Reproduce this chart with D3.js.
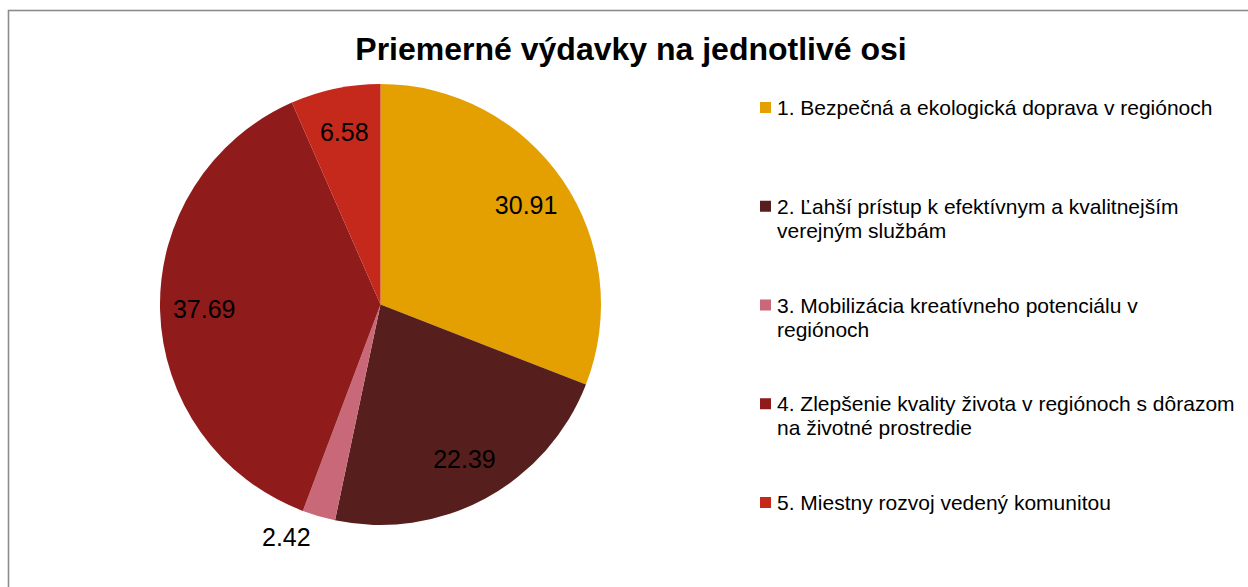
<!DOCTYPE html>
<html>
<head>
<meta charset="utf-8">
<script src="https://cdn.jsdelivr.net/npm/d3@7"></script>
<style>
  body { margin: 0; background: #fff; }
  svg { display: block; font-family: "Liberation Sans", Arial, sans-serif; }
</style>
</head>
<body>
<div id="chart"></div>
<script>
// data
const title = "Priemerné výdavky na jednotlivé osi";
const categories = [
  ["1. Bezpečná a ekologická doprava v regiónoch"],
  ["2. Ľahší prístup k efektívnym a kvalitnejším", "verejným službám"],
  ["3. Mobilizácia kreatívneho potenciálu v", "regiónoch"],
  ["4. Zlepšenie kvality života v regiónoch s dôrazom", "na životné prostredie"],
  ["5. Miestny rozvoj vedený komunitou"]
];
const values = [30.91, 22.39, 2.42, 37.69, 6.58];
const colors = ["#E3A000", "#561E1C", "#C86879", "#8F1B1B", "#C5291C"];

const w = 1248, h = 587;
const svg = d3.select("#chart").append("svg")
  .attr("width", w).attr("height", h);

// chart frame (runs off the right and bottom edge)
svg.append("rect")
  .attr("x", 8.5).attr("y", 10.5)
  .attr("width", 1400).attr("height", 800)
  .attr("fill", "none")
  .attr("stroke", "#8c8c8c")
  .attr("stroke-width", 1.6);

svg.append("text")
  .attr("x", 631).attr("y", 60)
  .attr("text-anchor", "middle")
  .style("font-size", "32px")
  .style("font-weight", "bold")
  .text(title);

// pie
const cx = 380.5, cy = 304.5, r = 220.5;
const g = svg.append("g").attr("transform", "translate(" + cx + "," + cy + ")");

const pie = d3.pie().sort(null).value(d => d);
const arcs = pie(values);
const arc = d3.arc().innerRadius(0).outerRadius(r);
const labelArc = d3.arc().innerRadius(r * 0.8).outerRadius(r * 0.8);

g.selectAll("path")
  .data(arcs)
  .enter()
  .append("path")
  .attr("d", arc)
  .attr("fill", (d, i) => colors[i]);

// small slices get their label outside the pie (best fit)
function labelPos(d) {
  if (d.endAngle - d.startAngle < 0.3) {
    const mid = (d.startAngle + d.endAngle) / 2 + 0.1;
    return d3.pointRadial(mid, r + 31);
  }
  return labelArc.centroid(d);
}

g.selectAll("text.lbl")
  .data(arcs)
  .enter()
  .append("text")
  .attr("class", "lbl")
  .attr("transform", d => "translate(" + labelPos(d) + ")")
  .attr("text-anchor", "middle")
  .attr("dy", "0.35em")
  .style("font-size", "25px")
  .style("fill", "#000")
  .text(d => d.data.toFixed(2));

// legend
const legend = svg.append("g").attr("transform", "translate(760,0)");
const ly = d3.scalePoint().domain(d3.range(categories.length)).range([115, 510]);

const items = legend.selectAll("g.item")
  .data(categories)
  .enter()
  .append("g")
  .attr("class", "item")
  .attr("transform", (d, i) => "translate(0," + ly(i) + ")");

items.append("rect")
  .attr("x", 0).attr("y", -13)
  .attr("width", 11).attr("height", 11)
  .attr("fill", (d, i) => colors[i]);

items.append("text")
  .attr("x", 17).attr("y", 0)
  .style("font-size", "21px")
  .style("fill", "#000")
  .selectAll("tspan")
  .data(d => d)
  .enter()
  .append("tspan")
  .attr("x", 17)
  .attr("dy", (d, i) => i === 0 ? 0 : 24)
  .text(d => d);
</script>
</body>
</html>
